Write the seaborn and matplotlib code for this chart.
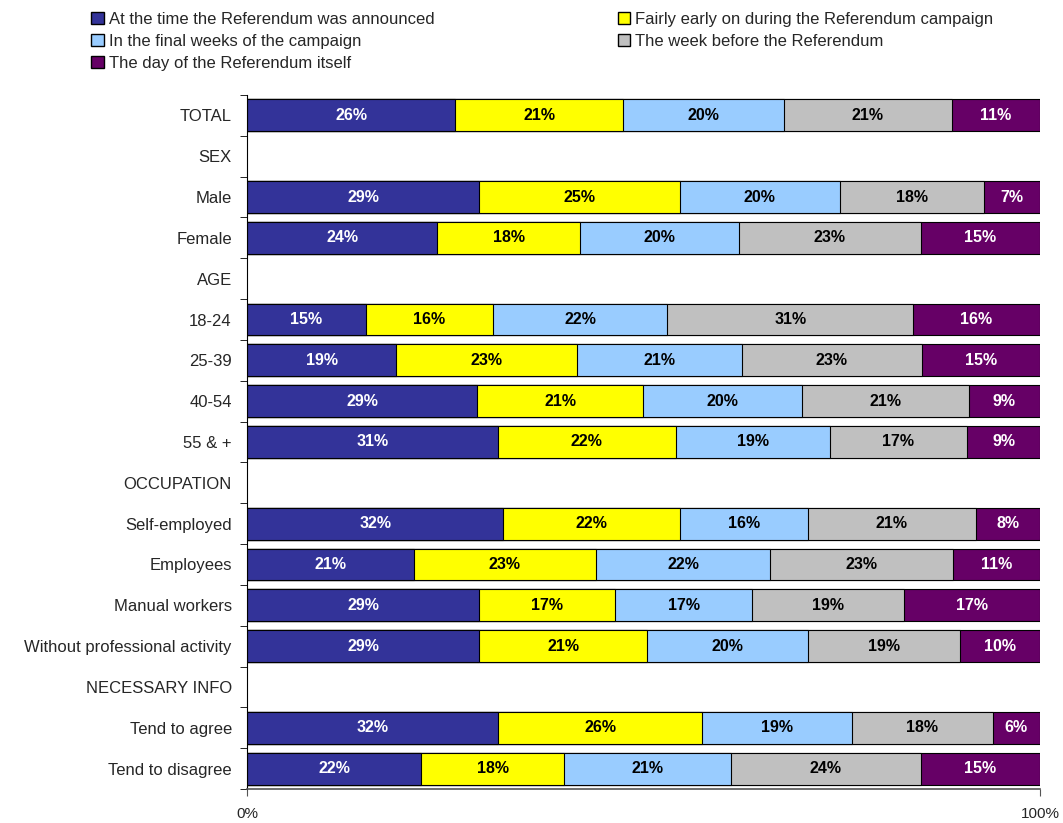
import numpy as np
import pandas as pd
import matplotlib
matplotlib.use("Agg")
import matplotlib.pyplot as plt
from matplotlib.patches import Patch
from matplotlib.ticker import FixedLocator
import seaborn as sns

categories = ["TOTAL", "SEX", "Male", "Female", "AGE", "18-24", "25-39", "40-54", "55 & +",
              "OCCUPATION", "Self-employed", "Employees", "Manual workers",
              "Without professional activity", "NECESSARY INFO", "Tend to agree", "Tend to disagree"]
series_names = ["At the time the Referendum was announced",
                "Fairly early on during the Referendum campaign",
                "In the final weeks of the campaign",
                "The week before the Referendum",
                "The day of the Referendum itself"]
nan = np.nan
announced = [26, nan, 29, 24, nan, 15, 19, 29, 31, nan, 32, 21, 29, 29, nan, 32, 22]
early     = [21, nan, 25, 18, nan, 16, 23, 21, 22, nan, 22, 23, 17, 21, nan, 26, 18]
final_wks = [20, nan, 20, 20, nan, 22, 21, 20, 19, nan, 16, 22, 17, 20, nan, 19, 21]
week_bef  = [21, nan, 18, 23, nan, 31, 23, 21, 17, nan, 21, 23, 19, 19, nan, 18, 24]
day_of    = [11, nan,  7, 15, nan, 16, 15,  9,  9, nan,  8, 11, 17, 10, nan,  6, 15]
colors = ["#333399", "#FFFF00", "#99CCFF", "#C0C0C0", "#660066"]
text_colors = ["white", "black", "black", "black", "white"]

sns.set_style("white")
plt.rcParams["font.family"] = ["Liberation Sans", "DejaVu Sans"]

vals = np.array([announced, early, final_wks, week_bef, day_of], dtype=float)
totals = np.nansum(vals, axis=0)
totals[totals == 0] = np.nan
share = vals / totals * 100
cum = np.cumsum(np.nan_to_num(share), axis=0)
cum[:, np.isnan(totals)] = np.nan

fig = plt.figure(figsize=(10.63, 8.23), dpi=100)
ax = fig.add_axes([0.2324, 0.0413, 0.9783 - 0.2324, 0.8433])

for i in range(4, -1, -1):
    df = pd.DataFrame({"cat": categories, "x": cum[i]})
    sns.barplot(data=df, x="x", y="cat", order=categories, orient="h",
                color=colors[i], edgecolor="black", linewidth=0.8,
                width=0.78, saturation=1, ax=ax, errorbar=None)

for j in range(len(categories)):
    if np.isnan(totals[j]):
        continue
    for i in range(5):
        start = cum[i - 1, j] if i > 0 else 0
        mid = start + share[i, j] / 2
        ax.text(mid, j, f"{int(vals[i, j])}%", ha="center", va="center",
                color=text_colors[i], fontsize=11.5, fontweight="bold")

ax.set_xlim(0, 100)
ax.set_ylim(len(categories) - 0.5, -0.5)
ax.set_xlabel("")
ax.set_ylabel("")
ax.set_xticks([0, 100])
ax.set_xticklabels(["0%", "100%"], fontsize=11)
ax.tick_params(axis="x", direction="out", length=5, pad=8, bottom=True, color="#555555")
ax.tick_params(axis="y", which="major", length=0, pad=11, labelsize=12)
ax.yaxis.set_minor_locator(FixedLocator(np.arange(-0.5, len(categories) + 0.5, 1)))
ax.tick_params(axis="y", which="minor", length=5, direction="out", left=True, color="black")
for s in ["top", "right"]:
    ax.spines[s].set_visible(False)
ax.spines["left"].set_color("black")
ax.spines["left"].set_linewidth(0.8)
ax.spines["bottom"].set_color("#555555")
ax.spines["bottom"].set_linewidth(1.2)

handles = [Patch(facecolor=colors[i], edgecolor="black", linewidth=1.0, label=series_names[i])
           for i in range(5)]
order = [0, 2, 4, 1, 3]
fig.legend([handles[k] for k in order], [series_names[k] for k in order],
           loc="upper left", bbox_to_anchor=(0.075, 1.0), ncol=2, frameon=False,
           fontsize=12, handlelength=0.75, handleheight=0.75, handletextpad=0.3,
           labelspacing=0.42, columnspacing=11.0, borderaxespad=0.3)

fig.savefig("out.png", dpi=100)
